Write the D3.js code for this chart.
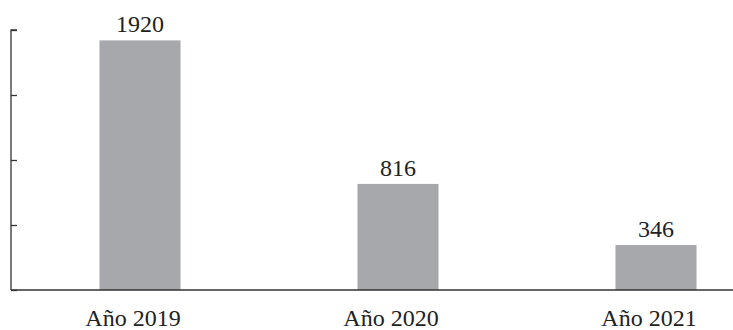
<!DOCTYPE html>
<html><head><meta charset="utf-8">
<script src="https://cdn.jsdelivr.net/npm/d3@7"></script>
<style>body{margin:0;background:#fff}svg{display:block}</style>
</head><body>
<script>
const categories = ["Año 2019", "Año 2020", "Año 2021"];
const values = [1920, 816, 346];
const yTicks = [0, 500, 1000, 1500, 2000];

const W = 733, H = 330;
const FONT = "Liberation Serif";
const svg = d3.select("body").append("svg").attr("width", W).attr("height", H);
const x = d3.scaleBand().domain(categories).range([11, 785]).paddingInner(0.686).paddingOuter(0.343);
const y = d3.scaleLinear().domain([0, 2000]).range([290, 30]);

svg.selectAll("rect.bar").data(values).join("rect")
  .attr("x", (d, i) => x(categories[i]))
  .attr("width", x.bandwidth())
  .attr("y", d => y(d))
  .attr("height", d => y(0) - y(d))
  .attr("fill", "#a7a8ab");

svg.selectAll("text.val").data(values).join("text")
  .attr("x", (d, i) => x(categories[i]) + x.bandwidth() / 2)
  .attr("y", d => y(d) - 8)
  .attr("text-anchor", "middle")
  .attr("font-family", FONT)
  .attr("font-size", 24)
  .attr("fill", "#222")
  .text(d => d);

// y axis
const ya = svg.append("g").attr("transform", "translate(11,0)")
  .call(d3.axisRight(y).tickValues(yTicks).tickSize(6).tickFormat(""));
ya.select(".domain").attr("d", `M6,${y(2000)}H0V${y(0)}`).attr("stroke", "#333").attr("stroke-width", 1.3);
ya.selectAll(".tick line").attr("stroke", "#333").attr("stroke-width", 1.3);

// x axis
const xa = svg.append("g").attr("transform", `translate(0,${y(0)})`)
  .call(d3.axisBottom(x).tickSize(0).tickPadding(36));
xa.select(".domain").attr("d", `M11,0H733`).attr("stroke", "#333").attr("stroke-width", 1.3);
xa.selectAll(".tick text").attr("font-family", FONT).attr("font-size", 24).attr("fill", "#222").attr("dy", 0).attr("dx", -7);
</script>
</body></html>
